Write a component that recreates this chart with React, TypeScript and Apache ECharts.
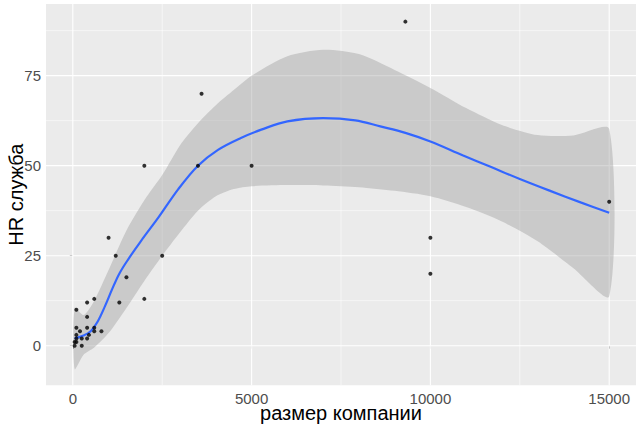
import { useEffect, useRef } from "react";
import * as echarts from "echarts";

// Observations (размер компании, HR служба)
const pointX = [50, 100, 100, 250, 400, 450, 200, 600, 800, 100, 400, 600, 250, 100, 400, 400, 600, 1000, 1200, 1500, 1300, 2000, 2000, 2500, 3500, 3600, 5000, 9300, 10000, 10000, 15000, 100, 50];
const pointY = [0, 1, 2, 2, 2, 3, 4, 4, 4, 5, 5, 5, 0, 10, 8, 12, 13, 30, 25, 19, 12, 13, 50, 25, 50, 70, 50, 90, 30, 20, 40, 3, 1];

// Smoothed (loess) curve
const curveX = [50, 300, 500, 700, 900, 1100, 1300, 1550, 1900, 2400, 2950, 3500, 4060, 4700, 5270, 6000, 7000, 7900, 8600, 9300, 10000, 10900, 11700, 12500, 13350, 14200, 15000];
const curveY = [2, 2.8, 4, 6.8, 11, 15.7, 20, 24, 29, 35.7, 43.5, 50, 54.4, 57.7, 60, 62.3, 63.2, 62.6, 60.9, 59.1, 56.7, 52.9, 49.6, 46.3, 43, 39.8, 36.9];

// Confidence band
const bandX = [50, 300, 600, 1000, 1500, 2000, 2500, 3000, 3500, 4000, 4500, 5000, 6000, 7000, 8000, 9000, 10000, 11000, 12000, 13000, 14000, 15000];
const bandUpper = [10.5, 8.5, 12.5, 21, 32, 40.4, 47.4, 55.7, 61.8, 66.8, 71, 75, 80.4, 82.2, 81, 76.6, 71.6, 66, 61.3, 58.5, 58.4, 60.2];
const bandLower = [-6.5, -2.5, -0.5, 3.5, 10.5, 18, 25, 31.5, 37.5, 41.5, 43.5, 44.3, 44.6, 44.5, 44, 43, 41.5, 38.5, 34.5, 29, 21.5, 13.7];

// Axes
const xTicks = [0, 5000, 10000, 15000];
const xMinor = [2500, 7500, 12500];
const yTicks = [0, 25, 50, 75];
const yMinor = [12.5, 37.5, 62.5, 87.5];
const X_MIN = -750;
const X_MAX = 15750;
const Y_MIN = -11;
const Y_MAX = 94.9;

export default function App() {
  const ref = useRef<HTMLDivElement>(null);
  useEffect(() => {
    if (!ref.current) return;
    const chart = echarts.init(ref.current, null, { renderer: "svg" });
    const font = "'Liberation Sans', Arial, sans-serif";
    chart.setOption({
      animation: false,
      backgroundColor: "#FFFFFF",
      grid: {
        left: 46,
        right: 4,
        top: 4,
        bottom: 41.7,
        show: true,
        containLabel: false,
        outerBoundsMode: "none",
        backgroundColor: "#EBEBEB",
        borderWidth: 0,
      },
      xAxis: {
        type: "value",
        min: X_MIN,
        max: X_MAX,
        splitLine: { show: false },
        axisLine: { show: false },
        axisTick: { show: true, length: 3, customValues: xTicks, lineStyle: { color: "#333333", width: 1 } },
        axisLabel: {
          customValues: xTicks,
          formatter: (v: number) => String(v),
          color: "#4D4D4D",
          fontSize: 15,
          fontFamily: font,
          margin: 6,
        },
        name: "размер компании",
        nameLocation: "middle",
        nameGap: 18,
        nameMoveOverlap: false,
        nameTextStyle: { color: "#000000", fontSize: 20, fontFamily: font },
      },
      yAxis: {
        type: "value",
        min: Y_MIN,
        max: Y_MAX,
        splitLine: { show: false },
        axisLine: { show: false },
        axisTick: { show: true, length: 3, customValues: yTicks, lineStyle: { color: "#333333", width: 1 } },
        axisLabel: {
          customValues: yTicks,
          formatter: (v: number) => String(v),
          color: "#4D4D4D",
          fontSize: 15,
          fontFamily: font,
          margin: 5,
        },
        name: "HR служба",
        nameLocation: "middle",
        nameGap: 20,
        nameMoveOverlap: false,
        nameTextStyle: { color: "#000000", fontSize: 20, fontFamily: font },
      },
      series: [
        {
          type: "custom",
          z: 1,
          silent: true,
          data: [[0, 0]],
          renderItem: (params: any, api: any) => {
            const children: any[] = [];
            const vline = (v: number, w: number) => {
              const a = api.coord([v, Y_MIN]);
              const b = api.coord([v, Y_MAX]);
              children.push({ type: "line", shape: { x1: a[0], y1: a[1], x2: b[0], y2: b[1] }, style: { stroke: "#FFFFFF", lineWidth: w } });
            };
            const hline = (v: number, w: number) => {
              const a = api.coord([X_MIN, v]);
              const b = api.coord([X_MAX, v]);
              children.push({ type: "line", shape: { x1: a[0], y1: a[1], x2: b[0], y2: b[1] }, style: { stroke: "#FFFFFF", lineWidth: w } });
            };
            xMinor.forEach((v) => vline(v, 0.55));
            yMinor.forEach((v) => hline(v, 0.55));
            xTicks.forEach((v) => vline(v, 1.1));
            yTicks.forEach((v) => hline(v, 1.1));
            const pts: number[][] = [];
            bandX.forEach((x, i) => pts.push(api.coord([x, bandUpper[i]])));
            for (let i = bandX.length - 1; i >= 0; i--) pts.push(api.coord([bandX[i], bandLower[i]]));
            children.push({
              type: "polygon",
              shape: { points: pts, smooth: 0.25 },
              style: { fill: "rgba(153,153,153,0.4)" },
            });
            return { type: "group", children };
          },
        },
        {
          type: "line",
          z: 3,
          silent: true,
          data: curveX.map((x, i) => [x, curveY[i]]),
          smooth: 0.35,
          showSymbol: false,
          lineStyle: { color: "#3366FF", width: 2.2 },
        },
        {
          type: "scatter",
          z: 4,
          silent: true,
          data: pointX.map((x, i) => [x, pointY[i]]),
          symbolSize: 4,
          itemStyle: { color: "#000000" },
        },
      ],
    });
    return () => chart.dispose();
  }, []);
  return <div ref={ref} style={{ width: 640, height: 427, position: "absolute", left: 0, top: 0 }} />;
}
